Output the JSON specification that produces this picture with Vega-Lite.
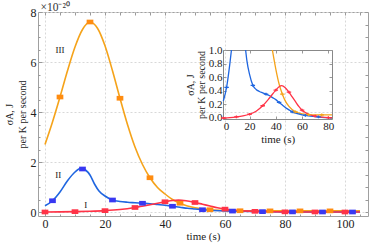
{
  "$schema": "https://vega.github.io/schema/vega-lite/v6.json",
  "width": 330,
  "height": 204,
  "autosize": "none",
  "padding": {"left": 38, "top": 12, "right": 6, "bottom": 36},
  "background": "white",
  "config": {
    "view": {"stroke": "#a0a0a0", "strokeWidth": 1},
    "font": "Liberation Serif",
    "axis": {
      "labelFont": "Liberation Serif",
      "titleFont": "Liberation Serif",
      "labelColor": "#222",
      "titleColor": "#222",
      "titleFontWeight": "normal",
      "tickColor": "#999",
      "domainColor": "#888",
      "gridColor": "#d8d8d8",
      "gridDash": [2, 2],
      "labelFontSize": 12,
      "titleFontSize": 11
    }
  },
  "datasets": {
    "lines": [
      {"s": "III", "t": 0, "v": 2.7}, {"s": "III", "t": 2.5, "v": 3.6}, {"s": "III", "t": 5, "v": 4.6},
      {"s": "III", "t": 7.5, "v": 5.65}, {"s": "III", "t": 10, "v": 6.6}, {"s": "III", "t": 12.5, "v": 7.3},
      {"s": "III", "t": 15, "v": 7.6}, {"s": "III", "t": 17.5, "v": 7.35}, {"s": "III", "t": 20, "v": 6.65},
      {"s": "III", "t": 22.5, "v": 5.65}, {"s": "III", "t": 25, "v": 4.55}, {"s": "III", "t": 27.5, "v": 3.5},
      {"s": "III", "t": 30, "v": 2.6}, {"s": "III", "t": 32.5, "v": 1.9}, {"s": "III", "t": 35, "v": 1.37},
      {"s": "III", "t": 37.5, "v": 0.98}, {"s": "III", "t": 40, "v": 0.72}, {"s": "III", "t": 42.5, "v": 0.5},
      {"s": "III", "t": 45, "v": 0.35}, {"s": "III", "t": 47.5, "v": 0.24}, {"s": "III", "t": 50, "v": 0.17},
      {"s": "III", "t": 55, "v": 0.09}, {"s": "III", "t": 60, "v": 0.06}, {"s": "III", "t": 65, "v": 0.05},
      {"s": "III", "t": 70, "v": 0.045}, {"s": "III", "t": 80, "v": 0.045}, {"s": "III", "t": 90, "v": 0.045},
      {"s": "III", "t": 105, "v": 0.045},
      {"s": "II", "t": 0, "v": 0.25}, {"s": "II", "t": 2.5, "v": 0.45}, {"s": "II", "t": 5, "v": 0.8},
      {"s": "II", "t": 7.5, "v": 1.25}, {"s": "II", "t": 10, "v": 1.6}, {"s": "II", "t": 12, "v": 1.75},
      {"s": "II", "t": 13.5, "v": 1.68}, {"s": "II", "t": 15, "v": 1.48}, {"s": "II", "t": 16.5, "v": 1.12},
      {"s": "II", "t": 18, "v": 0.84}, {"s": "II", "t": 20, "v": 0.64}, {"s": "II", "t": 22.5, "v": 0.48},
      {"s": "II", "t": 25, "v": 0.42}, {"s": "II", "t": 27.5, "v": 0.39}, {"s": "II", "t": 30, "v": 0.37},
      {"s": "II", "t": 32.5, "v": 0.35}, {"s": "II", "t": 35, "v": 0.33}, {"s": "II", "t": 37.5, "v": 0.3},
      {"s": "II", "t": 40, "v": 0.27}, {"s": "II", "t": 42.5, "v": 0.23}, {"s": "II", "t": 45, "v": 0.19},
      {"s": "II", "t": 47.5, "v": 0.15}, {"s": "II", "t": 50, "v": 0.12}, {"s": "II", "t": 52.5, "v": 0.09},
      {"s": "II", "t": 55, "v": 0.07}, {"s": "II", "t": 60, "v": 0.045}, {"s": "II", "t": 65, "v": 0.03},
      {"s": "II", "t": 70, "v": 0.02}, {"s": "II", "t": 75, "v": 0.01}, {"s": "II", "t": 80, "v": 0.005},
      {"s": "II", "t": 90, "v": 0.002}, {"s": "II", "t": 105, "v": 0},
      {"s": "I", "t": 0, "v": 0}, {"s": "I", "t": 5, "v": 0.005}, {"s": "I", "t": 10, "v": 0.015},
      {"s": "I", "t": 15, "v": 0.03}, {"s": "I", "t": 20, "v": 0.055}, {"s": "I", "t": 25, "v": 0.1},
      {"s": "I", "t": 30, "v": 0.18}, {"s": "I", "t": 35, "v": 0.29}, {"s": "I", "t": 40, "v": 0.41},
      {"s": "I", "t": 42.5, "v": 0.46}, {"s": "I", "t": 44.5, "v": 0.475}, {"s": "I", "t": 47, "v": 0.45},
      {"s": "I", "t": 50, "v": 0.38}, {"s": "I", "t": 52.5, "v": 0.31}, {"s": "I", "t": 55, "v": 0.24},
      {"s": "I", "t": 57.5, "v": 0.17}, {"s": "I", "t": 60, "v": 0.115}, {"s": "I", "t": 62.5, "v": 0.08},
      {"s": "I", "t": 65, "v": 0.055}, {"s": "I", "t": 70, "v": 0.027}, {"s": "I", "t": 75, "v": 0.013},
      {"s": "I", "t": 80, "v": 0.006}, {"s": "I", "t": 90, "v": 0.002}, {"s": "I", "t": 105, "v": 0}
    ],
    "insetLines": [
      {"s": "III", "g": "a", "t": 37.4, "v": 1.0}, {"s": "III", "g": "a", "t": 40, "v": 0.72},
      {"s": "III", "g": "a", "t": 42.5, "v": 0.5}, {"s": "III", "g": "a", "t": 45, "v": 0.35},
      {"s": "III", "g": "a", "t": 47.5, "v": 0.24}, {"s": "III", "g": "a", "t": 50, "v": 0.17},
      {"s": "III", "g": "a", "t": 55, "v": 0.09}, {"s": "III", "g": "a", "t": 60, "v": 0.06},
      {"s": "III", "g": "a", "t": 65, "v": 0.05}, {"s": "III", "g": "a", "t": 70, "v": 0.045},
      {"s": "III", "g": "a", "t": 82.8, "v": 0.045},
      {"s": "II", "g": "a", "t": 0, "v": 0.25}, {"s": "II", "g": "a", "t": 2.5, "v": 0.45},
      {"s": "II", "g": "a", "t": 5, "v": 0.8}, {"s": "II", "g": "a", "t": 6.2, "v": 1.0},
      {"s": "II", "g": "b", "t": 17, "v": 1.0}, {"s": "II", "g": "b", "t": 18, "v": 0.84},
      {"s": "II", "g": "b", "t": 20, "v": 0.64}, {"s": "II", "g": "b", "t": 22.5, "v": 0.48},
      {"s": "II", "g": "b", "t": 25, "v": 0.42}, {"s": "II", "g": "b", "t": 27.5, "v": 0.39},
      {"s": "II", "g": "b", "t": 30, "v": 0.37}, {"s": "II", "g": "b", "t": 32.5, "v": 0.35},
      {"s": "II", "g": "b", "t": 35, "v": 0.33}, {"s": "II", "g": "b", "t": 37.5, "v": 0.3},
      {"s": "II", "g": "b", "t": 40, "v": 0.27}, {"s": "II", "g": "b", "t": 42.5, "v": 0.23},
      {"s": "II", "g": "b", "t": 45, "v": 0.19}, {"s": "II", "g": "b", "t": 47.5, "v": 0.15},
      {"s": "II", "g": "b", "t": 50, "v": 0.12}, {"s": "II", "g": "b", "t": 52.5, "v": 0.09},
      {"s": "II", "g": "b", "t": 55, "v": 0.07}, {"s": "II", "g": "b", "t": 60, "v": 0.045},
      {"s": "II", "g": "b", "t": 65, "v": 0.03}, {"s": "II", "g": "b", "t": 70, "v": 0.02},
      {"s": "II", "g": "b", "t": 75, "v": 0.01}, {"s": "II", "g": "b", "t": 80, "v": 0.005},
      {"s": "II", "g": "b", "t": 82.8, "v": 0.004},
      {"s": "I", "g": "a", "t": 0, "v": 0}, {"s": "I", "g": "a", "t": 5, "v": 0.005},
      {"s": "I", "g": "a", "t": 10, "v": 0.015}, {"s": "I", "g": "a", "t": 15, "v": 0.03},
      {"s": "I", "g": "a", "t": 20, "v": 0.055}, {"s": "I", "g": "a", "t": 25, "v": 0.1},
      {"s": "I", "g": "a", "t": 30, "v": 0.18}, {"s": "I", "g": "a", "t": 35, "v": 0.29},
      {"s": "I", "g": "a", "t": 40, "v": 0.41}, {"s": "I", "g": "a", "t": 42.5, "v": 0.46},
      {"s": "I", "g": "a", "t": 44.5, "v": 0.475}, {"s": "I", "g": "a", "t": 47, "v": 0.45},
      {"s": "I", "g": "a", "t": 50, "v": 0.38}, {"s": "I", "g": "a", "t": 52.5, "v": 0.31},
      {"s": "I", "g": "a", "t": 55, "v": 0.24}, {"s": "I", "g": "a", "t": 57.5, "v": 0.17},
      {"s": "I", "g": "a", "t": 60, "v": 0.115}, {"s": "I", "g": "a", "t": 62.5, "v": 0.08},
      {"s": "I", "g": "a", "t": 65, "v": 0.055}, {"s": "I", "g": "a", "t": 70, "v": 0.027},
      {"s": "I", "g": "a", "t": 75, "v": 0.013}, {"s": "I", "g": "a", "t": 80, "v": 0.006},
      {"s": "I", "g": "a", "t": 82.8, "v": 0.005}
    ],
    "markers": [
      {"s": "I", "t": 0, "v": 0}, {"s": "I", "t": 10, "v": 0.015}, {"s": "I", "t": 20, "v": 0.055},
      {"s": "I", "t": 30, "v": 0.18}, {"s": "I", "t": 40, "v": 0.41}, {"s": "I", "t": 50, "v": 0.38},
      {"s": "I", "t": 60, "v": 0.115}, {"s": "I", "t": 70, "v": 0.027}, {"s": "I", "t": 80, "v": 0.006},
      {"s": "I", "t": 90, "v": 0.002}, {"s": "I", "t": 100, "v": 0},
      {"s": "II", "t": 2.5, "v": 0.45}, {"s": "II", "t": 12.5, "v": 1.72}, {"s": "II", "t": 22.5, "v": 0.48},
      {"s": "II", "t": 32.5, "v": 0.35}, {"s": "II", "t": 42.5, "v": 0.23}, {"s": "II", "t": 52.5, "v": 0.09},
      {"s": "II", "t": 62.5, "v": 0.037}, {"s": "II", "t": 72.5, "v": 0.015}, {"s": "II", "t": 82.5, "v": 0.004},
      {"s": "II", "t": 92.5, "v": 0.001}, {"s": "II", "t": 102.5, "v": 0},
      {"s": "III", "t": 5, "v": 4.6}, {"s": "III", "t": 15, "v": 7.6}, {"s": "III", "t": 25, "v": 4.55},
      {"s": "III", "t": 35, "v": 1.37}, {"s": "III", "t": 45, "v": 0.35}, {"s": "III", "t": 55, "v": 0.09},
      {"s": "III", "t": 65, "v": 0.05}, {"s": "III", "t": 75, "v": 0.045}, {"s": "III", "t": 85, "v": 0.045},
      {"s": "III", "t": 95, "v": 0.045}
    ],
    "labels": [
      {"lab": "III", "t": 5, "v": 6.5},
      {"lab": "II", "t": 4.4, "v": 1.5},
      {"lab": "I", "t": 13.6, "v": 0.28}
    ]
  },
  "layer": [
    {
      "encoding": {
        "x": {"field": "t", "type": "quantitative", "scale": {"domain": [-2.33, 107.67], "nice": false, "zero": false},
          "axis": {"orient": "bottom", "values": [0, 20, 40, 60, 80, 100], "grid": true, "domain": false, "tickSize": -4, "labelPadding": 6, "title": "time (s)", "titlePadding": 1}},
        "y": {"field": "v", "type": "quantitative", "scale": {"domain": [-0.16, 8], "nice": false, "zero": false},
          "axis": {"orient": "left", "values": [0, 2, 4, 6, 8], "grid": true, "domain": false, "tickSize": -4, "labelPadding": 6, "title": ["σA, J", "per K per second"], "titleFontSize": 10, "titleLineHeight": 13, "titlePadding": 3}}
      },
      "layer": [
        {
          "data": {"name": "lines"},
          "mark": {"type": "line", "interpolate": "monotone", "strokeWidth": 1.6},
          "encoding": {
            "stroke": {"field": "s", "type": "nominal", "scale": {"domain": ["I", "II", "III"], "range": ["#FF3347", "#1F66E0", "#F5A31A"]}, "legend": null}
          }
        },
        {
          "data": {"name": "markers"},
          "mark": {"type": "point", "filled": true, "shape": "M-1,-0.7H1V0.7H-1Z", "size": 45, "opacity": 1},
          "encoding": {
            "fill": {"field": "s", "type": "nominal", "scale": {"domain": ["I", "II", "III"], "range": ["#FF3347", "#3838F2", "#FF8C10"]}, "legend": null}
          }
        },
        {
          "data": {"name": "labels"},
          "mark": {"type": "text", "fontSize": 9, "font": "Liberation Serif", "color": "#111", "align": "center", "baseline": "middle"},
          "encoding": {"text": {"field": "lab"}}
        }
      ]
    },
    {
      "data": {"name": "labels"},
      "mark": {"type": "point", "opacity": 0},
      "encoding": {
        "x": {"field": "t", "type": "quantitative", "scale": {"domain": [-2.33, 107.67], "nice": false, "zero": false},
          "axis": {"orient": "top", "values": [0, 5, 10, 15, 20, 25, 30, 35, 40, 45, 50, 55, 60, 65, 70, 75, 80, 85, 90, 95, 100, 105], "grid": false, "domain": false, "labels": false, "tickSize": -3,
            "title": "×10⁻²⁰", "titleFontSize": 11.5, "titleColor": "#333", "titleAlign": "left", "titleAnchor": "start", "titleBaseline": "alphabetic", "titleX": 2, "titleY": -2, "titleAngle": 0}},
        "y": {"field": "v", "type": "quantitative", "scale": {"domain": [-0.16, 8], "nice": false, "zero": false},
          "axis": {"orient": "right", "values": [0, 0.5, 1, 1.5, 2, 2.5, 3, 3.5, 4, 4.5, 5, 5.5, 6, 6.5, 7, 7.5, 8], "grid": false, "domain": false, "labels": false, "tickSize": -3, "title": null}}
      }
    },
    {
      "data": {"name": "labels"},
      "mark": {"type": "point", "opacity": 0},
      "encoding": {
        "x": {"field": "t", "type": "quantitative", "scale": {"domain": [-2.33, 107.67], "nice": false, "zero": false},
          "axis": {"orient": "bottom", "values": [5, 10, 15, 25, 30, 35, 45, 50, 55, 65, 70, 75, 85, 90, 95, 105], "grid": false, "domain": false, "labels": false, "tickSize": -2, "title": null}},
        "y": {"field": "v", "type": "quantitative", "scale": {"domain": [-0.16, 8], "nice": false, "zero": false},
          "axis": {"orient": "left", "values": [0.5, 1, 1.5, 2.5, 3, 3.5, 4.5, 5, 5.5, 6.5, 7, 7.5], "grid": false, "domain": false, "labels": false, "tickSize": -2, "title": null}}
      }
    },
    {
      "encoding": {
        "x": {"field": "t", "type": "quantitative", "scale": {"domain": [0, 82.8], "range": [185.3, 294], "nice": false, "zero": false},
          "axis": {"orient": "bottom", "offset": -97, "values": [0, 20, 40, 60, 80], "grid": false, "domain": true, "tickSize": -3, "labelPadding": 4, "labelFontSize": 11, "title": "time (s)", "titlePadding": 2}},
        "y": {"field": "v", "type": "quantitative", "scale": {"domain": [-0.015, 1.0], "range": [107, 38], "nice": false, "zero": false},
          "axis": {"orient": "left", "offset": -185, "values": [0, 0.2, 0.4, 0.6, 0.8, 1.0], "format": ".1f", "grid": false, "domain": true, "tickSize": -3, "labelPadding": 4, "labelFontSize": 11, "title": ["σA, J", "per K per second"], "titleFontSize": 10, "titleLineHeight": 11, "titlePadding": 2}}
      },
      "layer": [
        {
          "data": {"name": "insetLines"},
          "mark": {"type": "line", "interpolate": "monotone", "strokeWidth": 1.3},
          "encoding": {
            "stroke": {"field": "s", "type": "nominal", "scale": {"domain": ["I", "II", "III"], "range": ["#FF3347", "#1F66E0", "#F5A31A"]}, "legend": null},
            "detail": {"field": "g"}
          }
        },
        {
          "data": {"name": "markers"},
          "transform": [{"filter": "datum.t <= 82 && datum.v <= 1"}],
          "mark": {"type": "point", "filled": false, "shape": "M-1,0H1M0,-0.6V0.6", "size": 20, "strokeWidth": 1.3, "opacity": 1},
          "encoding": {
            "stroke": {"field": "s", "type": "nominal", "scale": {"domain": ["I", "II", "III"], "range": ["#FF3347", "#1F66E0", "#F5A31A"]}, "legend": null}
          }
        }
      ]
    },
    {
      "data": {"name": "labels"},
      "mark": {"type": "point", "opacity": 0},
      "encoding": {
        "x": {"field": "t", "type": "quantitative", "scale": {"domain": [0, 82.8], "range": [185.3, 294], "nice": false, "zero": false},
          "axis": {"orient": "top", "offset": -38, "values": [0, 20, 40, 60, 80], "grid": false, "domain": true, "labels": false, "tickSize": -3, "title": null}},
        "y": {"field": "v", "type": "quantitative", "scale": {"domain": [-0.015, 1.0], "range": [107, 38], "nice": false, "zero": false},
          "axis": {"orient": "right", "offset": -36, "values": [0, 0.2, 0.4, 0.6, 0.8, 1.0], "grid": false, "domain": true, "labels": false, "tickSize": -3, "title": null}}
      }
    }
  ],
  "resolve": {"scale": {"x": "independent", "y": "independent"}, "axis": {"x": "independent", "y": "independent"}}
}
